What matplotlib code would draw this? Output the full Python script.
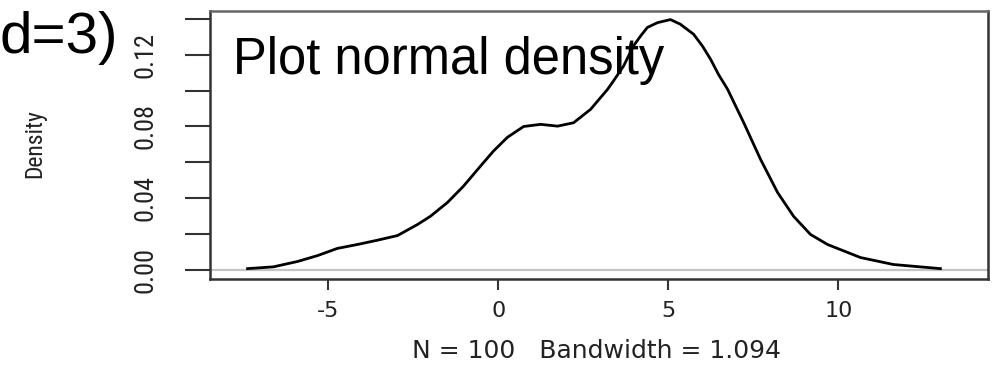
import matplotlib
matplotlib.use("Agg")
import matplotlib.pyplot as plt
from matplotlib import font_manager

# ---- data ----
density_x = [-7.38, -6.62, -5.91, -5.32, -4.74, -4.15, -3.56, -2.97, -2.38, -2.00,
             -1.50, -1.03, -0.53, -0.15, 0.26, 0.74, 1.24, 1.74, 2.21, 2.71,
             3.21, 3.38, 3.68, 3.97, 4.18, 4.38, 4.68, 5.06, 5.35, 5.74,
             6.00, 6.24, 6.47, 6.74, 7.21, 7.71, 8.21, 8.68, 9.18, 9.68,
             10.65, 11.62, 13.00]
density_y = [0.0005, 0.0015, 0.0045, 0.0078, 0.0118, 0.0140, 0.0164, 0.0190, 0.0252, 0.0298,
             0.0375, 0.0466, 0.0578, 0.0662, 0.0739, 0.0800, 0.0812, 0.0802, 0.0821, 0.0896,
             0.1008, 0.1054, 0.1138, 0.1250, 0.1306, 0.1354, 0.1381, 0.1398, 0.1372, 0.1316,
             0.1250, 0.1176, 0.1092, 0.1008, 0.0823, 0.0616, 0.0431, 0.0298, 0.0196, 0.0140,
             0.0067, 0.0028, 0.0005]

x_ticks = [-5, 0, 5, 10]
x_tick_labels = ["-5", "0", "5", "10"]
y_ticks = [0.00, 0.02, 0.04, 0.06, 0.08, 0.10, 0.12, 0.14]
y_tick_labels = ["0.00", "", "0.04", "", "0.08", "", "0.12", ""]
x_label = "N = 100   Bandwidth = 1.094"
y_label = "Density"
title_text = "Plot normal density"
code_fragment = "d=3)"

# pick a condensed face if one is installed
names = {f.name for f in font_manager.fontManager.ttflist}
narrow = [n for n in ["Liberation Sans Narrow", "Roboto Condensed", "Open Sans Condensed",
                      "DejaVu Sans Condensed"] if n in names] + ["DejaVu Sans"]
condensed_stretch = "condensed"

W, H = 1001, 370
fig = plt.figure(figsize=(W / 100, H / 100), dpi=100)
fig.patch.set_facecolor("white")

ax = fig.add_axes([210 / W, (H - 279) / H, (988 - 210) / W, (279 - 11) / H])
ax.set_xlim(-8.485, 14.40)
ax.set_ylim(-0.0053, 0.1446)

ax.axhline(0, color="#c4c4c4", lw=1.6, zorder=1)
ax.plot(density_x, density_y, color="black", lw=2.0, zorder=2,
        solid_joinstyle="round")

for s in ax.spines.values():
    s.set_color("#333333")
    s.set_linewidth(1.8)
ax.spines["top"].set_color("#666666")

ax.set_yticks(y_ticks)
ax.set_yticklabels(y_tick_labels, rotation=90, va="center",
                   fontfamily=narrow, fontstretch=condensed_stretch,
                   fontsize=19, color="#222222")
ax.tick_params(axis="y", direction="out", length=18, width=1.5,
               color="#333333", pad=20)

ax.set_xticks(x_ticks)
ax.set_xticklabels(x_tick_labels, fontfamily="DejaVu Sans", fontsize=16,
                   color="#222222")
ax.tick_params(axis="x", direction="out", length=8, width=1.5,
               color="#333333", pad=8)

fig.text(597 / W, (H - 358) / H, x_label, ha="center", va="baseline",
         fontfamily="DejaVu Sans", fontsize=18, color="#222222")
fig.text(35 / W, (H - 144) / H, y_label, rotation=90, ha="center", va="center",
         fontfamily=narrow, fontstretch=condensed_stretch, fontsize=17,
         color="#222222")

fig.text(233 / W, (H - 74) / H, title_text, ha="left", va="baseline",
         fontfamily=["Liberation Sans", "DejaVu Sans"], fontsize=36.5, color="black")
fig.text(0 / W, (H - 53) / H, code_fragment, ha="left", va="baseline",
         fontfamily=["Liberation Sans", "DejaVu Sans"], fontsize=42, color="black")

fig.savefig("out.png", dpi=100, facecolor="white")
